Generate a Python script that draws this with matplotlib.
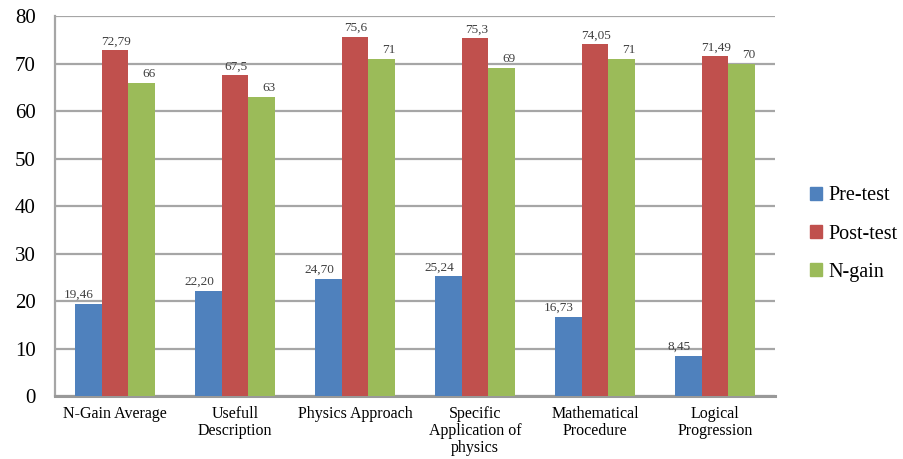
import numpy as np
import matplotlib.pyplot as plt
from matplotlib.patches import Patch

plt.rcParams['font.family'] = ['Liberation Serif', 'DejaVu Serif']

categories = ['N-Gain Average', 'Usefull\nDescription', 'Physics Approach',
              'Specific\nApplication of\nphysics', 'Mathematical\nProcedure',
              'Logical\nProgression']
pre_test = [19.46, 22.20, 24.70, 25.24, 16.73, 8.45]
post_test = [72.79, 67.5, 75.6, 75.3, 74.05, 71.49]
n_gain = [66, 63, 71, 69, 71, 70]

pre_labels = ['19,46', '22,20', '24,70', '25,24', '16,73', '8,45']
post_labels = ['72,79', '67,5', '75,6', '75,3', '74,05', '71,49']
gain_labels = ['66', '63', '71', '69', '71', '70']

colors = ['#4F81BD', '#C0504D', '#9BBB59']
grid_col = '#a6a6a6'

fig = plt.figure(figsize=(9.04, 4.59), dpi=100)
ax = fig.add_axes([0.0608, 0.137, 0.7965, 0.828])

x = np.arange(len(categories))
w = 0.22
series = [(pre_test, pre_labels, 'Pre-test', -w, -0.08),
          (post_test, post_labels, 'Post-test', 0, 0.01),
          (n_gain, gain_labels, 'N-gain', w, 0.06)]

for (vals, labs, name, off, dx), col in zip(series, colors):
    ax.bar(x + off, vals, width=w, color=col, label=name, zorder=3)
    for xi, v, t in zip(x, vals, labs):
        ax.text(xi + off + dx, v + 0.6, t, ha='center', va='bottom',
                fontsize=9.5, color='#404040', zorder=4)

ax.set_xlim(-0.5, len(categories) - 0.5)
ax.set_ylim(0, 80)
ax.set_yticks(range(0, 81, 10))
ax.yaxis.grid(True, color=grid_col, linewidth=1.6, zorder=0)
ax.set_axisbelow(True)

ax.set_xticks(x)
ax.set_xticklabels(categories, fontsize=11.5, linespacing=1.08, va='top')
ax.tick_params(axis='x', length=0, pad=7)
ax.tick_params(axis='y', length=0, pad=14, labelsize=15)

for s in ['top', 'right']:
    ax.spines[s].set_visible(False)
ax.spines['left'].set_color(grid_col)
ax.spines['left'].set_linewidth(1.6)
ax.spines['bottom'].set_color('#999999')
ax.spines['bottom'].set_linewidth(2.2)

handles = [Patch(color=c) for c in colors]
fig.legend(handles, ['Pre-test', 'Post-test', 'N-gain'],
           loc='center left', bbox_to_anchor=(0.896, 0.49),
           frameon=False, fontsize=14.5, handlelength=0.6, handleheight=0.6,
           handletextpad=0.3, labelspacing=0.95, borderpad=0, borderaxespad=0)

fig.savefig('out.png', dpi=100)
